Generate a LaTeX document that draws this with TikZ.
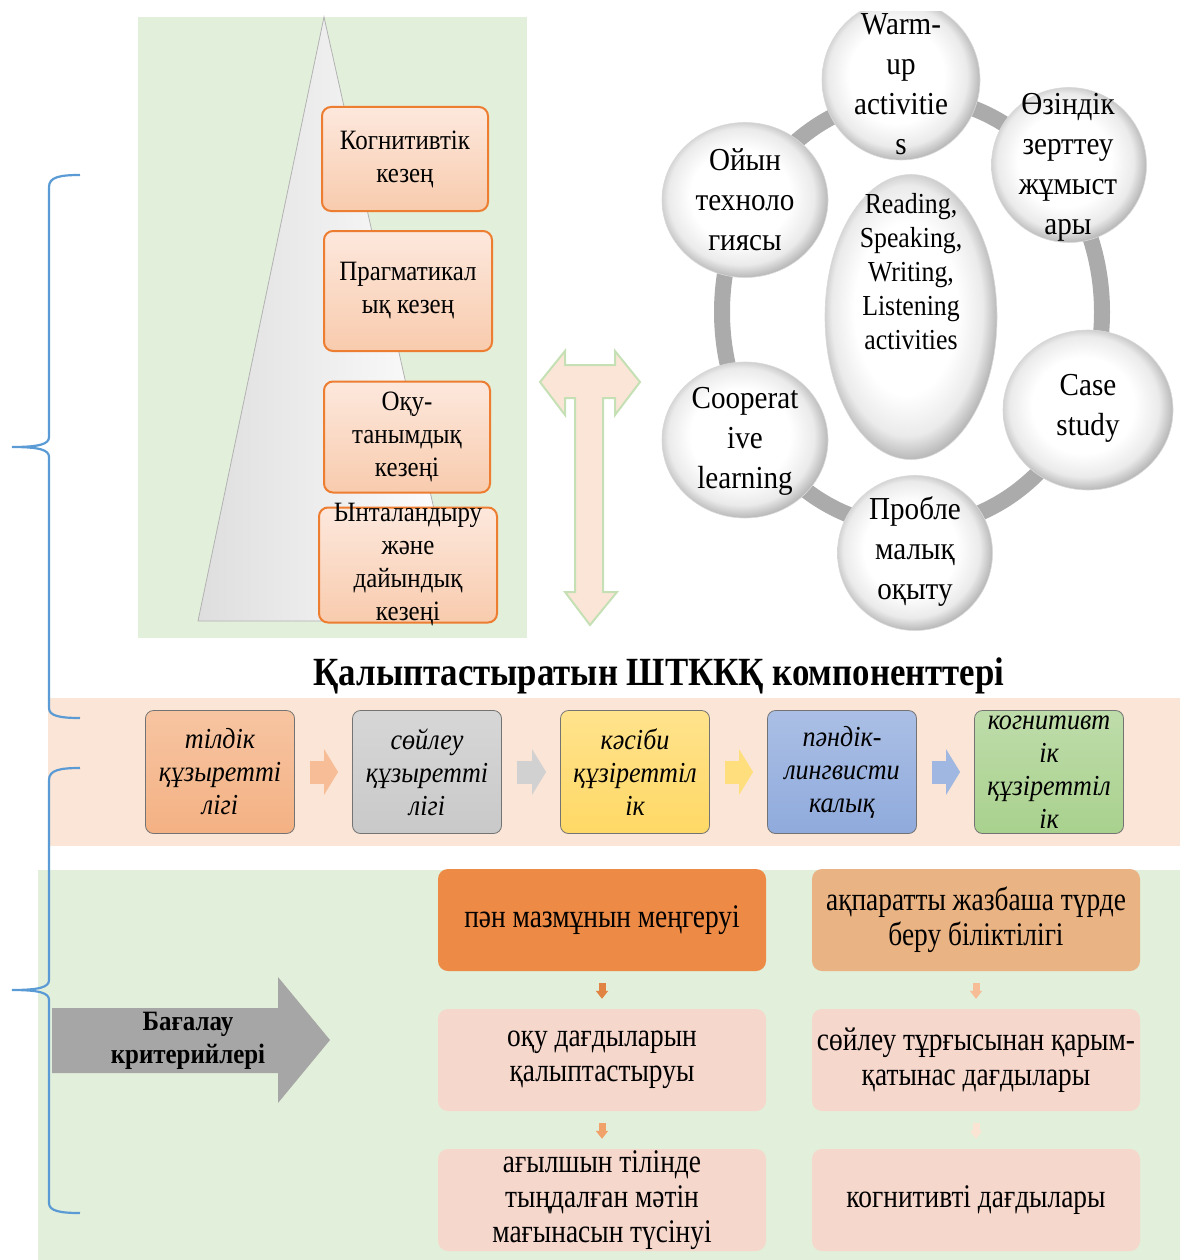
\documentclass[tikz,border=0pt]{standalone}
\usepackage{fontspec}
\setmainfont{Liberation Serif}
\newfontfamily\stagefam{Liberation Serif}[FakeStretch=0.89]
\newfontfamily\ballfam{Liberation Serif}[FakeStretch=0.91]
\newfontfamily\titlefam{Liberation Serif}[FakeStretch=0.87]
\newfontfamily\compfam{Liberation Serif}[FakeStretch=0.9]
\newfontfamily\slimfont{Liberation Serif}[FakeStretch=0.83]
\usetikzlibrary{arrows.meta,shapes.geometric,calc}

\definecolor{bandpeach}{HTML}{FBE5D6}
\definecolor{bandgreen}{HTML}{E2EFDA}
\definecolor{braceblue}{HTML}{5B9BD5}
\definecolor{stageedge}{HTML}{ED7D31}
\definecolor{stagetop}{HTML}{FDE8DD}
\definecolor{stagebot}{HTML}{F8CBAD}
\definecolor{twinedge}{HTML}{C5E0B4}
\definecolor{compA}{HTML}{F4B183}
\definecolor{compB}{HTML}{C9C9C9}
\definecolor{compC}{HTML}{FFD966}
\definecolor{compD}{HTML}{8FAADC}
\definecolor{compE}{HTML}{A9D18E}
\definecolor{critA}{HTML}{ED8A45}
\definecolor{critB}{HTML}{E9B384}
\definecolor{critsoft}{HTML}{F6D7CC}

\pgfdeclareradialshading{sphere}{\pgfpoint{-2bp}{2bp}}{color(0bp)=(white); color(15bp)=(white); color(22bp)=(black!8); color(26bp)=(black!28); color(50bp)=(black!28)}

\newcommand\stagefont{\stagefam\fontsize{28}{33}\selectfont}
\newcommand\balltextfont{\ballfam\fontsize{32}{40}\selectfont}
\newcommand\hubfont{\stagefam\fontsize{29}{34}\selectfont}
\newcommand\titlefont{\titlefam\bfseries\fontsize{40}{44}\selectfont}
\newcommand\compfont{\compfam\itshape\fontsize{29}{33}\selectfont}
\newcommand\critfont{\slimfont\fontsize{33}{35}\selectfont}
\newcommand\bagalaufont{\stagefam\bfseries\fontsize{28}{33}\selectfont}

\begin{document}
\begin{tikzpicture}[x=1pt,y=-1pt]
\tikzset{
     brace/.style={draw=braceblue, line width=2.2pt},
     stage/.style={draw=stageedge, line width=2pt, rounded corners=9pt, top color=stagetop, bottom color=stagebot, align=center, font=\stagefont, inner sep=1pt},
     ball/.style={ellipse, shading=sphere, draw=black!15, line width=.6pt, inner sep=0pt},
     balltext/.style={align=center, font=\balltextfont, inner sep=0pt},
     comp/.style={draw=black!55, line width=.8pt, rounded corners=8pt, minimum width=149, minimum height=123, align=center, font=\compfont, inner sep=1pt},
     compflow/.style={draw=#1, line width=23pt, -{Triangle[length=14pt,width=45pt]}, shorten <=15pt, shorten >=14pt},
     crit/.style={rounded corners=10pt, minimum width=328, minimum height=102, align=center, font=\critfont, inner sep=2pt},
     critflow/.style={draw=#1, line width=7pt, -{Triangle[length=8pt,width=12pt]}, shorten <=12pt, shorten >=10pt}}
\useasboundingbox (0,0) rectangle (1180,1260);

% The backgrounds
\fill[bandgreen] (138,17) rectangle (527,638);
\fill[bandpeach] (48,698) rectangle (1180,846);
\fill[bandgreen] (38,870) rectangle (1180,1260);

% The braces
\draw[brace] (80,175) .. controls (60,175) and (49,177) .. (49,187) -- (49,437)
   .. controls (49,444) and (40,447) .. (12,447) .. controls (40,447) and (49,450) .. (49,457)
   -- (49,708) .. controls (49,716) and (60,718) .. (80,718);
\draw[brace] (80,768) .. controls (60,768) and (49,770) .. (49,780) -- (49,980)
   .. controls (49,987) and (40,990) .. (12,990) .. controls (40,990) and (49,993) .. (49,1000)
   -- (49,1203) .. controls (49,1211) and (60,1213) .. (80,1213);

% The pyramid and its stages
\shade[left color=black!13, right color=white] (324,17) -- (198,621) -- (459,621) -- cycle;
\draw[black!30, line width=.8pt] (324,17) -- (198,621) -- (459,621) -- cycle;

\node (cogstage) [stage, minimum width=166, minimum height=104] at (405,159) {Когнитивтік\\кезең};
\node (pragstage) [stage, minimum width=168, minimum height=120] at (408,291) {Прагматикал\\ық кезең};
\node (learnstage) [stage, minimum width=166, minimum height=111] at (407,437) {Оқу-\\танымдық\\кезеңі};
\node (motstage) [stage, minimum width=178, minimum height=115, inner ysep=-6pt] at (408,565) {Ынталандыру\\және\\дайындық\\кезеңі};

% The twin arrow
\draw[twinedge, fill=bandpeach, line width=2pt] (540,382) -- (565,351) -- (565,365) -- (615,365) -- (615,351) -- (640,382)
   -- (615,415) -- (615,398) -- (603,398) -- (603,592) -- (617,592) -- (590,625) -- (565,592) -- (575,592)
   -- (575,398) -- (565,398) -- (565,415) -- cycle;

% The circles
\begin{scope}
\clip (640,12) rectangle (1180,660);
\draw[black!33, line width=16pt] (912,312) ellipse [x radius=190pt, y radius=215pt];
\node (hub) [ball, minimum width=172, minimum height=285] at (911,317) {};
\node (hub-t) [align=center, font=\hubfont, inner sep=0pt] at (911,272) {Reading,\\Speaking,\\Writing,\\Listening\\activities};

\node (warmup) [ball, minimum width=158, minimum height=160] at (901,80) {};
\node (ozindik) [ball, minimum width=155, minimum height=155] at (1069,165) {};
\node (casest) [ball, minimum width=170, minimum height=160] at (1088,410) {};
\node (problem) [ball, minimum width=155, minimum height=155] at (915,553) {};
\node (cooper) [ball, minimum width=166, minimum height=156] at (745,440) {};
\node (ojyn) [ball, minimum width=166, minimum height=155] at (745,200) {};

\node (warmup-t) [balltext] at (901,84) {Warm-\\up\\activitie\\s};
\node (ozindik-t) [balltext] at (1068,167) {Өзіндік\\зерттеу\\жұмыст\\ары};
\node (casest-t) [balltext] at (1088,408) {Case\\study};
\node (problem-t) [balltext] at (915,551) {Пробле\\малық\\оқыту};
\node (cooper-t) [balltext] at (745,441) {Cooperat\\ive\\learning};
\node (ojyn-t) [balltext] at (745,200) {Ойын\\техноло\\гиясы};
\end{scope}

% The components
\node (title) [font=\titlefont] at (659,676) {Қалыптастыратын ШТККҚ компоненттері};

\node (tildik) [comp, top color=compA!75, bottom color=compA] at (220,772) {тілдік\\құзыретті\\лігі};
\node (soileu) [comp, top color=compB!75, bottom color=compB] at (427,772) {сөйлеу\\құзыретті\\лігі};
\node (kasibi) [comp, top color=compC!75, bottom color=compC] at (635,772) {кәсіби\\құзіреттіл\\ік};
\node (pandik) [comp, top color=compD!75, bottom color=compD] at (842,772) {пәндік-\\лингвисти\\калық};
\node (kognit) [comp, top color=compE!75, bottom color=compE, inner ysep=-6pt] at (1049,772) {когнитивт\\ік\\құзіреттіл\\ік};

\draw[compflow=compA!85] (tildik) -- (soileu);
\draw[compflow=compB!85] (soileu) -- (kasibi);
\draw[compflow=compC!85] (kasibi) -- (pandik);
\draw[compflow=compD!85] (pandik) -- (kognit);

% The criteria
\fill[black!35] (52,1008) -- (278,1008) -- (278,977) -- (330,1040) -- (278,1103) -- (278,1073) -- (52,1073) -- cycle;
\node (bagalau) [align=center, font=\bagalaufont] at (188,1041) {Бағалау\\критерийлері};

\node (penmaz) [crit, fill=critA] at (602,920) {пән мазмұнын меңгеруі};
\node (oqu) [crit, fill=critsoft] at (602,1060) {оқу дағдыларын\\қалыптастыруы};
\node (tyndau) [crit, fill=critsoft, inner ysep=-4pt] at (602,1200) {ағылшын тілінде\\тыңдалған мәтін\\мағынасын түсінуі};
\node (aqparat) [crit, fill=critB] at (976,920) {ақпаратты жазбаша түрде\\беру біліктілігі};
\node (qarym) [crit, fill=critsoft] at (976,1060) {сөйлеу тұрғысынан қарым-\\қатынас дағдылары};
\node (kogdag) [crit, fill=critsoft] at (976,1200) {когнитивті дағдылары};

\draw[critflow=critA!95!black] (penmaz) -- (oqu);
\draw[critflow=critA!80] (oqu) -- (tyndau);
\draw[critflow=compA!85] (aqparat) -- (qarym);
\draw[critflow=compA!35] (qarym) -- (kogdag);
\end{tikzpicture}
\end{document}
